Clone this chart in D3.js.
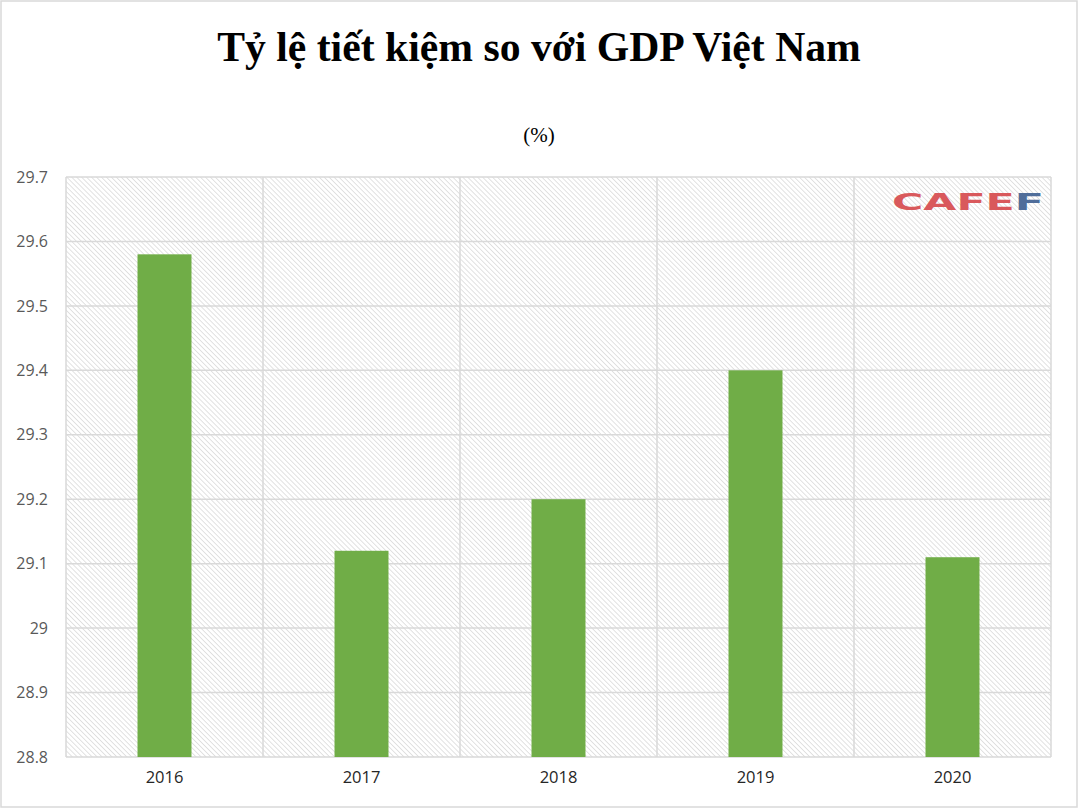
<!DOCTYPE html>
<html>
<head>
<meta charset="utf-8">
<script src="https://cdn.jsdelivr.net/npm/d3@7"></script>
<style>
  body { margin: 0; background: #fff; }
  svg { display: block; }
</style>
</head>
<body>
<div id="chart"></div>
<script>
// dữ liệu biểu đồ
const years = ["2016", "2017", "2018", "2019", "2020"];
const savingRate = [29.58, 29.12, 29.2, 29.4, 29.11];
const yTicks = [28.8, 28.9, 29, 29.1, 29.2, 29.3, 29.4, 29.5, 29.6, 29.7];

const W = 1079, H = 809;
const margin = { top: 177, right: 28, bottom: 52, left: 66 };
const width = W - margin.left - margin.right;
const height = H - margin.top - margin.bottom;

const svg = d3.select("#chart")
    .append("svg")
    .attr("width", W)
    .attr("height", H);

// nền sọc chéo cho vùng vẽ
const defs = svg.append("defs");
const pat = defs.append("pattern")
    .attr("id", "hatch")
    .attr("patternUnits", "userSpaceOnUse")
    .attr("width", 3.5)
    .attr("height", 3.5)
    .attr("patternTransform", "rotate(-45)");
pat.append("rect").attr("width", 3.5).attr("height", 3.5).attr("fill", "#fff");
pat.append("line")
    .attr("x1", 0).attr("y1", 0).attr("x2", 0).attr("y2", 3.5)
    .attr("stroke", "#cfcfcf")
    .attr("stroke-width", 1.2);

// khung ngoài
svg.append("rect")
    .attr("x", 1).attr("y", 1)
    .attr("width", W - 3).attr("height", H - 3)
    .attr("fill", "none")
    .attr("stroke", "#d9d9d9")
    .attr("stroke-width", 1.5);

// tiêu đề
svg.append("text")
    .attr("x", 539)
    .attr("y", 61)
    .attr("text-anchor", "middle")
    .style("font-family", "'Liberation Serif', 'Times New Roman', serif")
    .style("font-weight", "bold")
    .style("font-size", "41.7px")
    .style("fill", "#000")
    .text("Tỷ lệ tiết kiệm so với GDP Việt Nam");

svg.append("text")
    .attr("x", 539)
    .attr("y", 142)
    .attr("text-anchor", "middle")
    .style("font-family", "'Liberation Serif', 'Times New Roman', serif")
    .style("font-size", "21px")
    .style("fill", "#000")
    .text("(%)");

const g = svg.append("g")
    .attr("transform", `translate(${margin.left},${margin.top})`);

const x = d3.scaleBand()
    .domain(years)
    .range([0, width])
    .paddingInner(0.726)
    .paddingOuter(0.363);

const xCat = d3.scaleBand()
    .domain(years)
    .range([0, width]);

const y = d3.scaleLinear()
    .domain([28.8, 29.7])
    .range([height, 0]);

g.append("rect")
    .attr("width", width)
    .attr("height", height)
    .attr("fill", "url(#hatch)");

// lưới ngang
g.selectAll(".hgrid")
    .data(yTicks)
    .enter().append("line")
    .attr("class", "hgrid")
    .attr("x1", 0).attr("x2", width)
    .attr("y1", d => y(d)).attr("y2", d => y(d))
    .attr("stroke", "#d9d9d9")
    .attr("stroke-width", 1.5);

// lưới dọc
g.selectAll(".vgrid")
    .data(years.slice(1).concat(["end"]))
    .enter().append("line")
    .attr("class", "vgrid")
    .attr("x1", d => d === "end" ? width : xCat(d))
    .attr("x2", d => d === "end" ? width : xCat(d))
    .attr("y1", 0).attr("y2", height)
    .attr("stroke", "#d9d9d9")
    .attr("stroke-width", 1.5);

g.append("line")
    .attr("x1", 0).attr("x2", 0)
    .attr("y1", 0).attr("y2", height)
    .attr("stroke", "#d9d9d9")
    .attr("stroke-width", 1.5);

// cột
g.selectAll(".bar")
    .data(years)
    .enter().append("rect")
    .attr("class", "bar")
    .attr("x", d => x(d))
    .attr("width", x.bandwidth())
    .attr("y", (d, i) => y(savingRate[i]))
    .attr("height", (d, i) => height - y(savingRate[i]))
    .attr("fill", "#70ad47");

// trục y
const yAxis = g.append("g")
    .call(d3.axisLeft(y).tickValues(yTicks).tickSize(0).tickPadding(18)
        .tickFormat(d => String(+d.toFixed(1))));
yAxis.select(".domain").remove();
yAxis.selectAll("text")
    .style("font-family", "'Open Sans', sans-serif")
    .style("font-size", "16px")
    .style("fill", "#595959");

// trục x
const xAxis = g.append("g")
    .attr("transform", `translate(0,${height})`)
    .call(d3.axisBottom(xCat).tickSize(0).tickPadding(14));
xAxis.select(".domain").remove();
xAxis.selectAll("text")
    .style("font-family", "'Open Sans', sans-serif")
    .style("font-size", "16.5px")
    .style("fill", "#262626");

// logo CAFEF
const logo = svg.append("text")
    .attr("x", 892)
    .attr("y", 210)
    .attr("textLength", 152)
    .attr("lengthAdjust", "spacingAndGlyphs")
    .style("font-family", "'DejaVu Sans', sans-serif")
    .style("font-weight", "bold")
    .style("font-size", "23px");
logo.append("tspan").attr("fill", "#d9595c").text("CAFE");
logo.append("tspan").attr("fill", "#4f6d9a").text("F");
</script>
</body>
</html>
